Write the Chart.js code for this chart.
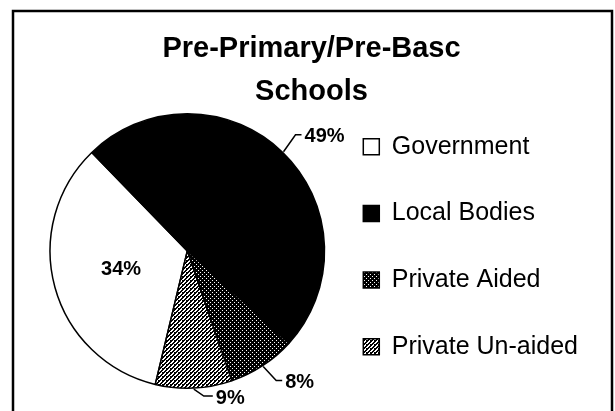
<!DOCTYPE html>
<html>
<head>
<meta charset="utf-8">
<script src="https://cdn.jsdelivr.net/npm/chart.js@4.4.1/dist/chart.umd.min.js"></script>
<style>
  html, body { margin: 0; padding: 0; background: #fff; }
</style>
</head>
<body>
<canvas id="chartPie" width="615" height="411"></canvas>
<script>
// data
const categories = ['Government', 'Local Bodies', 'Private Aided', 'Private Un-aided'];
const shares = [34, 49, 8, 9];
const titleLines = ['Pre-Primary/Pre-Basc', 'Schools'];

const FONT = '"Liberation Sans", Arial, sans-serif';

// small tiles for the scanned fill patterns
function tile (size, paint) {
  const c = document.createElement('canvas');
  c.width = c.height = size;
  const g = c.getContext('2d');
  g.fillStyle = '#fff';
  g.fillRect(0, 0, size, size);
  g.fillStyle = '#000';
  for (let x = 0; x < size; x++) {
    for (let y = 0; y < size; y++) {
      if (paint(x, y)) g.fillRect(x, y, 1, 1);
    }
  }
  return g.createPattern(c, 'repeat');
}
const dots = tile(4, (x, y) => !((x === 0 && y === 0) || (x === 2 && y === 2)));
const hatch = tile(4, (x, y) => (x + y) % 4 === 3 || (x + y) % 4 === 0 || (x === 2 && y === 0));

// leader lines for the outside labels (null = label inside the slice)
const leaders = [null, {bend: [12, -17], run: 6}, {bend: [13, 14], run: 6}, {bend: [10, 7], run: 9}];

// frame round the whole chart
const frame = {
  id: 'frame',
  beforeDraw(chart) {
    const c = chart.ctx;
    c.save();
    c.strokeStyle = '#000';
    c.lineWidth = 2.5;
    c.beginPath();
    c.moveTo(13, 411);
    c.lineTo(13, 11);
    c.lineTo(612, 11);
    c.lineTo(612, 411);
    c.stroke();
    c.restore();
  }
};

// move legend down and title left a little, the library can't space them like the scan
const nudge = {
  id: 'nudge',
  afterLayout(chart) {
    const lg = chart.legend;
    lg.left -= 4; lg.right -= 4;
    lg.top += 12; lg.bottom += 12;
    const tb = chart.titleBlock;
    tb.left -= 9; tb.right -= 9;
  }
};

// percent labels
const pctLabels = {
  id: 'pctLabels',
  afterDatasetsDraw(chart) {
    const c = chart.ctx;
    const arcs = chart.getDatasetMeta(0).data;
    c.save();
    c.font = 'bold 20px ' + FONT;
    c.fillStyle = '#000';
    c.strokeStyle = '#000';
    c.lineWidth = 1.5;
    c.textBaseline = 'middle';
    arcs.forEach((arc, i) => {
      const p = arc.getProps(['x', 'y', 'startAngle', 'endAngle', 'outerRadius'], true);
      const mid = (p.startAngle + p.endAngle) / 2;
      const text = shares[i] + '%';
      const lead = leaders[i];
      if (!lead) {
        c.textAlign = 'center';
        c.fillText(text, p.x + Math.cos(mid) * p.outerRadius * 0.5, p.y + Math.sin(mid) * p.outerRadius * 0.5);
        return;
      }
      const sx = p.x + Math.cos(mid) * (p.outerRadius + 1);
      const sy = p.y + Math.sin(mid) * (p.outerRadius + 1);
      const ex = sx + lead.bend[0], ey = sy + lead.bend[1];
      const hx = ex + lead.run;
      c.beginPath();
      c.moveTo(sx, sy);
      c.lineTo(ex, ey);
      c.lineTo(hx, ey);
      c.stroke();
      c.textAlign = 'left';
      c.fillText(text, hx + 3, ey + 2);
    });
    c.restore();
  }
};

const ctx = document.getElementById('chartPie');
const chartPie = new Chart(ctx, {
  type: 'pie',
  data: {
    labels: categories,
    datasets: [{
      data: shares,
      backgroundColor: ['#fff', '#000', dots, hatch],
      borderColor: '#000',
      borderWidth: 1.5,
      hoverOffset: 0,
      offset: 0
    }]
  },
  options: {
    responsive: false,
    animation: false,
    events: [],
    rotation: 193.5,
    layout: {
      padding: {top: 10, left: 49, right: 23, bottom: 22}
    },
    plugins: {
      title: {
        display: true,
        text: titleLines,
        color: '#000',
        font: {family: FONT, size: 29, weight: 'bold', lineHeight: 43 / 29},
        padding: {top: 17, bottom: 0}
      },
      legend: {
        position: 'right',
        align: 'end',
        labels: {
          color: '#000',
          boxWidth: 16,
          boxHeight: 16,
          padding: 41.7,
          font: {family: FONT, size: 25}
        }
      },
      tooltip: {enabled: false}
    }
  },
  plugins: [frame, nudge, pctLabels]
});
</script>
</body>
</html>
